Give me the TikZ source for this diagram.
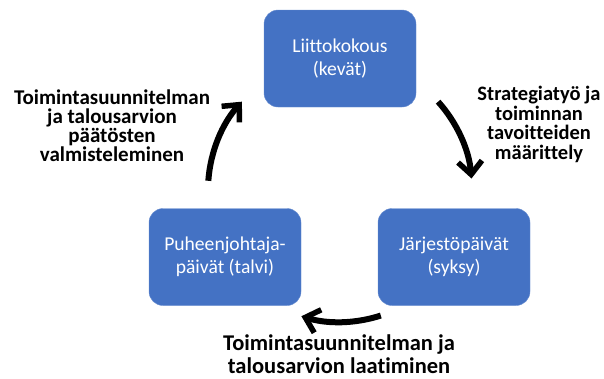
\documentclass[tikz,border=0pt]{standalone}
\usepackage{fontspec}
\setmainfont{Carlito}[Ligatures=NoCommon]
\usetikzlibrary{arrows.meta,calc}
\definecolor{boxblue}{HTML}{4472C4}
\begin{document}
\begin{tikzpicture}[x=1pt,y=-1pt,
  stage/.style={fill=boxblue, draw=boxblue!80!white, rounded corners=14pt, minimum width=152pt, minimum height=97pt, text=white, align=center, font=\fontsize{19.6}{23}\selectfont},
  lbl/.style={align=center, font=\bfseries\fontsize{21}{19}\selectfont, inner sep=0pt},
  arr/.style={line width=6pt, -{Straight Barb[length=13pt,width=24pt,line width=5.5pt]}}
]
\useasboundingbox (0,0) rectangle (604,378);
\node[stage] (kok) at (340,58.5) {Liittokokous\\(kevät)};
\node[stage] (puh) at (225,257) {Puheenjohtaja-\\päivät (talvi)};
\node[stage] (jar) at (454,257) {Järjestöpäivät\\(syksy)};
\node[lbl] (tl) at (112,126) {Toimintasuunnitelman\\ja talousarvion\\päätösten\\valmisteleminen};
\node[lbl, font=\bfseries\fontsize{20.5}{19.5}\selectfont] (tr) at (539,124.5) {Strategiatyö ja\\toiminnan\\tavoitteiden\\määrittely};
\node[lbl, font=\bfseries\fontsize{22.5}{23}\selectfont] (tb) at (339,354) {Toimintasuunnitelman ja\\talousarvion laatiminen};
\coordinate (c) at (340,190);
\coordinate (la) at ($(c)+(-176:132)$);
\coordinate (ra) at ($(c)+(-42:132)$);
\coordinate (ba) at ($(c)+(72:132)$);
\draw[arr] (la) arc[start angle=-176, end angle=-138, radius=132];
\draw[arr] (ra) arc[start angle=-42, end angle=-5, radius=132];
\draw[arr] (ba) arc[start angle=72, end angle=107, radius=132];
\end{tikzpicture}
\end{document}
